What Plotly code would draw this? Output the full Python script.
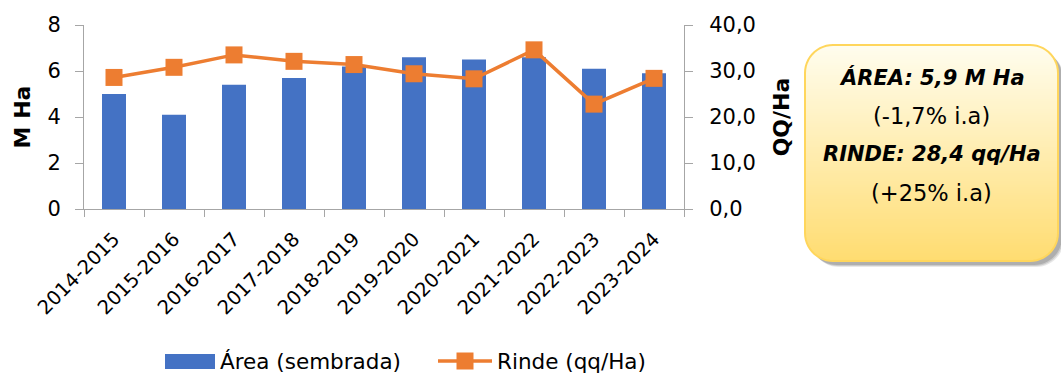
import numpy as np
import plotly.graph_objects as go

# ---- data -------------------------------------------------------------
campanas = ["2014-2015", "2015-2016", "2016-2017", "2017-2018", "2018-2019",
            "2019-2020", "2020-2021", "2021-2022", "2022-2023", "2023-2024"]
area_mha = [5.0, 4.1, 5.4, 5.7, 6.2, 6.6, 6.5, 6.6, 6.1, 5.9]
rinde_qq = [28.6, 30.8, 33.5, 32.1, 31.4, 29.4, 28.3, 34.6, 22.8, 28.4]
var_area_ia = -1.7
var_rinde_ia = 25

AZUL = "#4472C4"
NARANJA = "#ED7D31"
GRIS = "#A6A6A6"
FONT = "DejaVu Sans"

W, H = 1061, 373
ML, MR, MT, MB = 84, 377, 25, 164
PW, PH = W - ML - MR, H - MT - MB


def px_to_paper(x, y):
    """Pixel position (origin top-left) -> paper coordinates."""
    return (x - ML) / PW, (H - MB - y) / PH


def path_from_points(pts):
    parts = []
    for i, (x, y) in enumerate(pts):
        px, py = px_to_paper(x, y)
        parts.append(("M" if i == 0 else "L") + f"{px:.5f},{py:.5f}")
    return " ".join(parts) + " Z"


def rounded_rect_points(x0, y0, x1, y1, r, n=14):
    pts = []
    corners = [(x1 - r, y0 + r, -np.pi / 2, 0), (x1 - r, y1 - r, 0, np.pi / 2),
               (x0 + r, y1 - r, np.pi / 2, np.pi), (x0 + r, y0 + r, np.pi, 1.5 * np.pi)]
    for cx, cy, a0, a1 in corners:
        for a in np.linspace(a0, a1, n):
            pts.append((cx + r * np.cos(a), cy + r * np.sin(a)))
    return pts


def inset(y, y0, y1, r):
    d = max(0.0, (y0 + r) - y, y - (y1 - r))
    d = min(d, r)
    return r - np.sqrt(max(r * r - d * d, 0.0))


def band_points(x0, y0, x1, y1, r, ya, yb, n=4):
    ys = np.linspace(ya, yb, n)
    left = [(x0 + inset(y, y0, y1, r), y) for y in ys]
    right = [(x1 - inset(y, y0, y1, r), y) for y in ys[::-1]]
    return left + right


def mix(c0, c1, t):
    return "rgb(%d,%d,%d)" % tuple(round(a + (b - a) * t) for a, b in zip(c0, c1))


# ---- traces -----------------------------------------------------------
fig = go.Figure()
fig.add_trace(go.Bar(
    x=campanas, y=area_mha, name="Área (sembrada)", width=0.4,
    marker=dict(color=AZUL, line=dict(width=0)), yaxis="y",
))
fig.add_trace(go.Scatter(
    x=campanas, y=rinde_qq, name="Rinde (qq/Ha)", mode="lines+markers",
    line=dict(color=NARANJA, width=3.5),
    marker=dict(symbol="square", size=17, color=NARANJA), yaxis="y2",
))

# ---- summary box ------------------------------------------------------
shapes = []
bx0, by0, bx1, by1, br = 805, 45, 1058, 261, 28

# soft shadow
for off, op in [(6, 0.18), (5, 0.25), (4, 0.35)]:
    shapes.append(dict(type="path", xref="paper", yref="paper", layer="above",
                       path=path_from_points(rounded_rect_points(bx0 + off, by0 + off,
                                                                 bx1 + off, by1 + off, br)),
                       fillcolor=f"rgba(120,120,120,{op})", line=dict(width=0)))

# vertical gradient fill
top_c, bot_c = (255, 253, 238), (255, 220, 112)
step = 2.0
y = by0
while y < by1:
    ya, yb = y, min(y + step + 0.6, by1)
    t = (y - by0) / (by1 - by0)
    shapes.append(dict(type="path", xref="paper", yref="paper", layer="above",
                       path=path_from_points(band_points(bx0, by0, bx1, by1, br, ya, yb)),
                       fillcolor=mix(top_c, bot_c, t), line=dict(width=0)))
    y += step

# outline
shapes.append(dict(type="path", xref="paper", yref="paper", layer="above",
                   path=path_from_points(rounded_rect_points(bx0, by0, bx1, by1, br)),
                   fillcolor="rgba(0,0,0,0)", line=dict(color="#FFD65C", width=2)))


def fmt(v, dec=1):
    return f"{v:.{dec}f}".replace(".", ",")


lineas = [
    (f"<b><i>ÁREA: {fmt(area_mha[-1])} M Ha</i></b>", 21),
    (f"({fmt(var_area_ia)}% i.a)", 22.5),
    (f"<b><i>RINDE: {fmt(rinde_qq[-1])} qq/Ha</i></b>", 21),
    (f"(+{var_rinde_ia}% i.a)", 22.5),
]
annotations = []
cx = (bx0 + bx1) / 2
for i, (txt, fs) in enumerate(lineas):
    ax, ay = px_to_paper(cx, 77 + 38.5 * i)
    annotations.append(dict(text=txt, x=ax, y=ay, xref="paper", yref="paper",
                            xanchor="center", yanchor="middle", showarrow=False,
                            font=dict(family=FONT, size=fs, color="#000000")))

# ---- legend -----------------------------------------------------------
lx0, ly0 = px_to_paper(165, 354)
lx1, ly1 = px_to_paper(215, 369)
shapes.append(dict(type="rect", xref="paper", yref="paper", x0=lx0, x1=lx1, y0=ly1, y1=ly0,
                   fillcolor=AZUL, line=dict(width=0)))
annotations.append(dict(text=fig.data[0].name, x=px_to_paper(218, 0)[0],
                        y=px_to_paper(0, 361)[1], xref="paper", yref="paper",
                        xanchor="left", yanchor="middle", showarrow=False,
                        font=dict(family=FONT, size=21.5, color="#000000")))
sx0, sy = px_to_paper(438, 361)
sx1, _ = px_to_paper(492, 361)
shapes.append(dict(type="line", xref="paper", yref="paper", x0=sx0, x1=sx1, y0=sy, y1=sy,
                   line=dict(color=NARANJA, width=3.5)))
mx0, my0 = px_to_paper(456.5, 352.5)
mx1, my1 = px_to_paper(473.5, 369.5)
shapes.append(dict(type="rect", xref="paper", yref="paper", x0=mx0, x1=mx1, y0=my1, y1=my0,
                   fillcolor=NARANJA, line=dict(width=0)))
annotations.append(dict(text=fig.data[1].name, x=px_to_paper(495, 0)[0],
                        y=px_to_paper(0, 361)[1], xref="paper", yref="paper",
                        xanchor="left", yanchor="middle", showarrow=False,
                        font=dict(family=FONT, size=21.5, color="#000000")))

# ---- layout -----------------------------------------------------------
axis_common = dict(showgrid=False, zeroline=False, showline=True, linecolor=GRIS,
                   linewidth=1, ticks="outside", ticklen=8, tickcolor=GRIS,
                   tickfont=dict(family=FONT, size=21, color="#000000"))

fig.update_layout(
    width=W, height=H,
    margin=dict(l=ML, r=MR, t=MT, b=MB, pad=0, autoexpand=False),
    paper_bgcolor="white", plot_bgcolor="white",
    separators=",.",
    showlegend=False,
    font=dict(family=FONT, color="#000000"),
    xaxis=dict(type="category", range=[-0.5, len(campanas) - 0.5],
               showgrid=False, showline=True, linecolor=GRIS,
               ticks="outside", ticklen=7, tickcolor=GRIS, tickson="boundaries",
               tickangle=-45, ticklabelstandoff=10, ticklabelshift=0,
               tickfont=dict(family=FONT, size=19.5, color="#000000")),
    yaxis=dict(range=[0, 8], dtick=2, ticklabelstandoff=10,
               title=dict(text="<b>M Ha</b>", standoff=10,
                          font=dict(family=FONT, size=22, color="#000000")),
               **axis_common),
    yaxis2=dict(range=[0, 40], dtick=10, tickformat=".1f", overlaying="y", side="right",
                ticklabelstandoff=12,
                title=dict(text="<b>QQ/Ha</b>", standoff=18,
                           font=dict(family=FONT, size=22, color="#000000")),
                **axis_common),
    shapes=shapes,
    annotations=annotations,
)

fig.write_html("out.html")
